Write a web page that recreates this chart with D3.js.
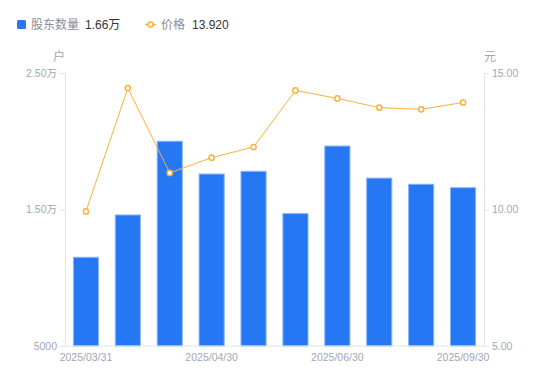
<!DOCTYPE html>
<html>
<head>
<meta charset="utf-8">
<script src="https://d3js.org/d3.v7.min.js"></script>
<style>
    body { margin: 0; background: #fff; }
    svg text { font-family: "Liberation Sans", Arial, "Noto Sans CJK SC", sans-serif; }
</style>
</head>
<body>
<div id="chart"></div>
<script>
    // data
    const dates = ["2025/03/31", "2025/04/10", "2025/04/18", "2025/04/30", "2025/05/20",
                   "2025/06/20", "2025/06/30", "2025/07/31", "2025/08/29", "2025/09/30"];
    const holders = [11500, 14600, 20000, 17600, 17800, 14700, 19650, 17300, 16850, 16600];
    const prices = [9.93, 14.45, 11.34, 11.90, 12.29, 14.36, 14.07, 13.73, 13.67, 13.92];
    const leftTicks = [5000, 15000, 25000];
    const rightTicks = [5, 10, 15];
    const shownDates = ["2025/03/31", "2025/04/30", "2025/06/30", "2025/09/30"];

    const width = 550, height = 381;
    const mLeft = 65, mRight = 484, mTop = 73, mBottom = 346;
    const blue = "#2677f4", orange = "#f8b13a", grey = "#a3a6b4";

    const svg = d3.select("#chart").append("svg")
        .attr("width", width)
        .attr("height", height);

    const x = d3.scaleBand().domain(dates).range([mLeft, mRight])
        .paddingInner(0.4).paddingOuter(0.2);
    const yL = d3.scaleLinear().domain([5000, 25000]).range([mBottom, mTop]);
    const yR = d3.scaleLinear().domain([5, 15]).range([mBottom, mTop]);

    const fmtHolders = v => v >= 10000 ? (v / 10000).toFixed(2) + "万" : String(v);

    // bars
    svg.selectAll("rect.bar")
        .data(holders)
        .enter().append("rect")
        .attr("class", "bar")
        .attr("x", (d, i) => x(dates[i]))
        .attr("y", d => yL(d))
        .attr("width", x.bandwidth())
        .attr("height", d => mBottom - yL(d))
        .attr("fill", blue)
        .attr("stroke", "#8ab6fa")
        .attr("stroke-width", 1);

    // axes
    const axisL = svg.append("g")
        .attr("transform", `translate(${mLeft},0)`)
        .call(d3.axisLeft(yL).tickValues(leftTicks).tickFormat(fmtHolders).tickSize(5).tickPadding(3));
    const axisR = svg.append("g")
        .attr("transform", `translate(${mRight},0)`)
        .call(d3.axisRight(yR).tickValues(rightTicks).tickFormat(d3.format(".2f")).tickSize(5).tickPadding(3));
    const axisB = svg.append("g")
        .attr("transform", `translate(0,${mBottom})`)
        .call(d3.axisBottom(x).tickValues(shownDates).tickSize(0).tickPadding(8));

    [axisL, axisR, axisB].forEach(g => {
        g.select(".domain").attr("stroke", "#e3e4e8");
        g.selectAll(".tick line").attr("stroke", "#e3e4e8");
        g.selectAll(".tick text").attr("fill", grey).attr("font-size", 10.5);
    });
    axisB.select(".domain").attr("d", `M${mLeft},0H${mRight}`);

    // axis titles
    svg.append("text").attr("x", 59).attr("y", 61).attr("text-anchor", "middle")
        .attr("fill", grey).attr("font-size", 12).text("户");
    svg.append("text").attr("x", 490).attr("y", 61).attr("text-anchor", "middle")
        .attr("fill", grey).attr("font-size", 12).text("元");

    // price line
    const line = d3.line()
        .x((d, i) => x(dates[i]) + x.bandwidth() / 2)
        .y(d => yR(d));
    svg.append("path")
        .datum(prices)
        .attr("d", line)
        .attr("fill", "none")
        .attr("stroke", orange)
        .attr("stroke-width", 1);
    svg.selectAll("circle.pt")
        .data(prices)
        .enter().append("circle")
        .attr("class", "pt")
        .attr("cx", (d, i) => x(dates[i]) + x.bandwidth() / 2)
        .attr("cy", d => yR(d))
        .attr("r", 2.6)
        .attr("fill", "#fff")
        .attr("stroke", orange)
        .attr("stroke-width", 1.5);

    // legend
    const lg = svg.append("g").attr("font-size", 12);
    lg.append("rect").attr("x", 17).attr("y", 20).attr("width", 9).attr("height", 9)
        .attr("rx", 1.5).attr("fill", blue);
    lg.append("text").attr("x", 31).attr("y", 29).attr("fill", "#8a8d99").text("股东数量");
    lg.append("text").attr("x", 85).attr("y", 29).attr("fill", "#333").text(fmtHolders(holders[holders.length - 1]));
    lg.append("line").attr("x1", 145).attr("x2", 156).attr("y1", 24.5).attr("y2", 24.5)
        .attr("stroke", orange).attr("stroke-width", 1.5);
    lg.append("circle").attr("cx", 150.5).attr("cy", 24.5).attr("r", 2.5)
        .attr("fill", "#fff").attr("stroke", orange).attr("stroke-width", 1.5);
    lg.append("text").attr("x", 161).attr("y", 29).attr("fill", "#8a8d99").text("价格");
    lg.append("text").attr("x", 192).attr("y", 29).attr("fill", "#333").text(prices[prices.length - 1].toFixed(3));
</script>
</body>
</html>
